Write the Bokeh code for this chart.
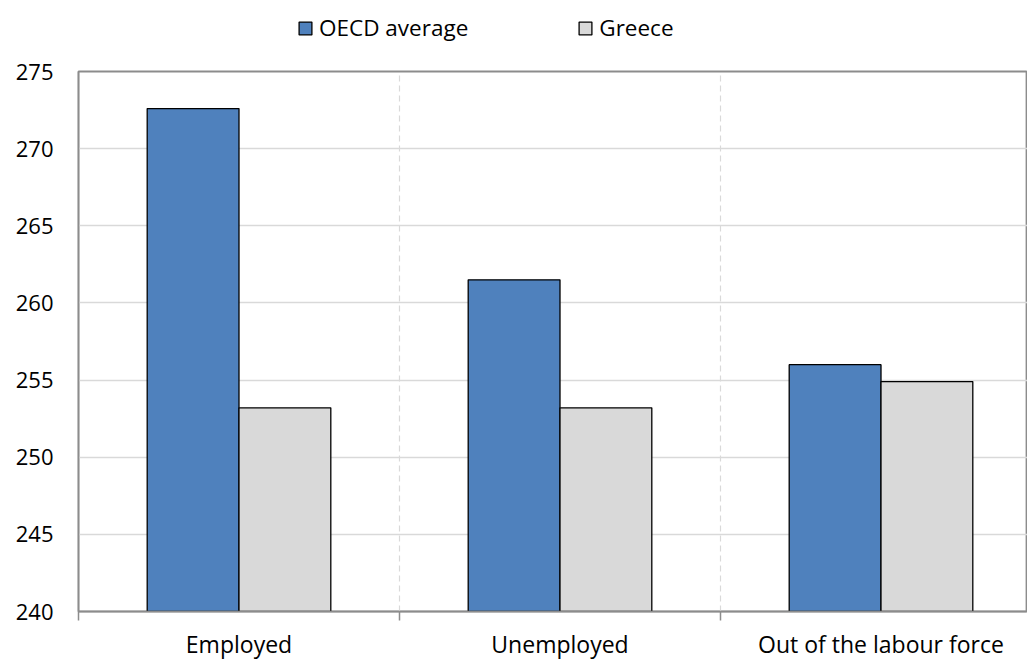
from bokeh.plotting import figure
from bokeh.layouts import column
from bokeh.models import Range1d, FixedTicker, Legend, LegendItem, ColumnDataSource
from bokeh.embed import file_html
from bokeh.resources import INLINE

categories = ["Employed", "Unemployed", "Out of the labour force"]
series_names = ["OECD average", "Greece"]
oecd_values = [272.6, 261.5, 256.0]
greece_values = [253.2, 253.2, 254.9]
y_ticks = [240, 245, 250, 255, 260, 265, 270, 275]
colors = ["#4F81BD", "#D9D9D9"]

FONT = "Open Sans"
centers = [i + 0.5 for i in range(len(categories))]
bw = 0.286

src = ColumnDataSource(dict(
    x_oecd=[c - bw / 2 for c in centers],
    x_gr=[c + bw / 2 for c in centers],
    oecd=oecd_values,
    greece=greece_values,
))

# ---- legend strip (top); its bar renderers are hidden, only legend swatches show ----
lg = figure(width=1027, height=51, output_backend="svg", toolbar_location=None,
            x_axis_type=None, y_axis_type=None, x_range=Range1d(100, 101), y_range=Range1d(0, 1),
            min_border=0, outline_line_color=None)
lg.grid.visible = False
d1 = lg.vbar(x="x_oecd", top="oecd", bottom=240, width=bw, source=src,
             fill_color=colors[0], line_color="black", line_width=1.3)
d2 = lg.vbar(x="x_gr", top="greece", bottom=240, width=bw, source=src,
             fill_color=colors[1], line_color="black", line_width=1.3)
d1.visible = False
d2.visible = False
legend = Legend(items=[LegendItem(label=series_names[0], renderers=[d1]),
                       LegendItem(label=series_names[1], renderers=[d2])],
                orientation="horizontal", location=(219, 8))
legend.glyph_width = 16
legend.glyph_height = 16
legend.label_standoff = 6
legend.label_height = 24
legend.spacing = 109
legend.padding = 0
legend.margin = 0
legend.border_line_color = None
legend.background_fill_alpha = 0
legend.label_text_font = FONT
legend.label_text_font_size = "22.5px"
legend.label_text_color = "black"
lg.add_layout(legend, "center")

# ---- main chart ----
p = figure(width=1027, height=611, output_backend="svg", toolbar_location=None,
           x_range=Range1d(0, 949 / 321), y_range=Range1d(240, 275),
           min_border_left=78, min_border_right=0, min_border_top=20, min_border_bottom=30)

p.vbar(x="x_oecd", top="oecd", bottom=240, width=bw, source=src,
       fill_color=colors[0], line_color="black", line_width=1.3)
p.vbar(x="x_gr", top="greece", bottom=240, width=bw, source=src,
       fill_color=colors[1], line_color="black", line_width=1.3)

p.outline_line_color = "#8c8c8c"
p.outline_line_width = 1.8
p.background_fill_color = "white"
p.border_fill_color = "white"

# y axis
p.yaxis.ticker = FixedTicker(ticks=y_ticks)
p.yaxis.major_tick_out = 0
p.yaxis.major_tick_in = 0
p.yaxis.minor_tick_out = 0
p.yaxis.minor_tick_in = 0
p.yaxis.axis_line_color = "#8c8c8c"
p.yaxis.axis_line_width = 1.5
p.yaxis.major_label_standoff = 25
p.yaxis.major_label_text_font = FONT
p.yaxis.major_label_text_font_size = "22px"
p.yaxis.major_label_text_color = "black"

# x axis
p.xaxis.ticker = FixedTicker(ticks=centers, minor_ticks=[0, 1, 2, 3])
p.xaxis.major_label_overrides = {c: n for c, n in zip(centers, categories)}
p.xaxis.major_tick_out = 0
p.xaxis.major_tick_in = 0
p.xaxis.minor_tick_out = 9
p.xaxis.minor_tick_in = 0
p.xaxis.minor_tick_line_color = "#8c8c8c"
p.xaxis.minor_tick_line_width = 1.5
p.xaxis.axis_line_color = "#8c8c8c"
p.xaxis.axis_line_width = 1.5
p.xaxis.major_label_standoff = 7
p.xaxis.major_label_text_font = FONT
p.xaxis.major_label_text_font_size = "23px"
p.xaxis.major_label_text_color = "black"

# grids
p.ygrid.ticker = FixedTicker(ticks=y_ticks)
p.ygrid.grid_line_color = "#d9d9d9"
p.ygrid.grid_line_width = 1.5
p.xgrid.ticker = FixedTicker(ticks=[1, 2])
p.xgrid.grid_line_color = "#d9d9d9"
p.xgrid.grid_line_width = 1.2
p.xgrid.grid_line_dash = "6 4"

layout = column(lg, p, spacing=0)
open("out.html", "w").write(file_html(layout, INLINE))
